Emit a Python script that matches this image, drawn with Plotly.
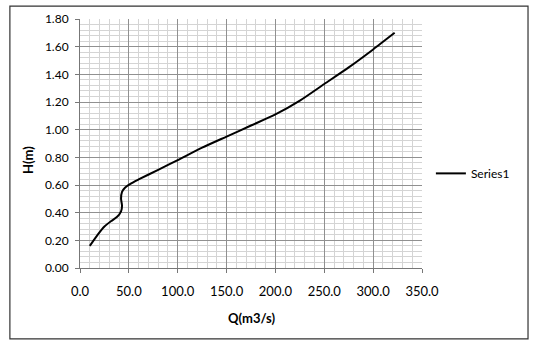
import plotly.graph_objects as go

Q = [10, 18, 25, 32, 38, 42, 43, 42, 43, 46, 52, 60, 80, 100, 125, 150, 175, 200, 225, 250, 275, 300, 322]
H = [0.16, 0.24, 0.30, 0.34, 0.37, 0.41, 0.45, 0.50, 0.55, 0.58, 0.61, 0.64, 0.71, 0.78, 0.87, 0.95, 1.03, 1.11, 1.21, 1.33, 1.45, 1.58, 1.70]

x_ticks = [0, 50, 100, 150, 200, 250, 300, 350]
y_ticks = [0, 0.2, 0.4, 0.6, 0.8, 1.0, 1.2, 1.4, 1.6, 1.8]

FONT = "Lato"

fig = go.Figure()
fig.add_trace(go.Scatter(x=Q, y=H, mode="lines", name="Series1",
                         line=dict(color="black", width=2, shape="spline", smoothing=0.6)))

fig.update_layout(
    width=534, height=344,
    margin=dict(l=80, r=112, t=19, b=76, autoexpand=False),
    paper_bgcolor="white", plot_bgcolor="white",
    font=dict(family=FONT, size=12, color="black"),
    showlegend=True,
    legend=dict(x=1.026, y=0.38, xanchor="left", yanchor="middle",
                font=dict(family=FONT, size=12, color="black"),
                bgcolor="rgba(0,0,0,0)"),
    xaxis=dict(range=[0, 350], tickvals=x_ticks, ticktext=[f"{v:.1f}" for v in x_ticks],
               showgrid=True, gridcolor="#909090", gridwidth=1,
               minor=dict(dtick=10, showgrid=True, gridcolor="#d4d4d4", gridwidth=0.7),
               showline=True, linecolor="#777", linewidth=1,
               ticks="outside", ticklen=4, tickcolor="#777", ticklabelstandoff=7,
               zeroline=False, tickfont=dict(size=13)),
    yaxis=dict(range=[0, 1.8], tickvals=y_ticks, ticktext=[f"{v:.2f}" for v in y_ticks],
               showgrid=True, gridcolor="#909090", gridwidth=1,
               minor=dict(dtick=0.04, showgrid=True, gridcolor="#d4d4d4", gridwidth=0.7),
               showline=True, linecolor="#777", linewidth=1,
               ticks="outside", ticklen=4, tickcolor="#777", ticklabelstandoff=4,
               zeroline=False, tickfont=dict(size=12)),
)

fig.add_annotation(text="<b>Q(m3/s)</b>", xref="paper", yref="paper", x=0.5, y=-0.2,
                   showarrow=False, font=dict(family=FONT, size=13, color="black"),
                   xanchor="center", yanchor="middle")
fig.add_annotation(text="<b>H(m)</b>", xref="paper", yref="paper", x=-0.152, y=0.434,
                   showarrow=False, textangle=-90, font=dict(family=FONT, size=13, color="black"),
                   xanchor="center", yanchor="middle")

fig.add_shape(type="rect", xref="paper", yref="paper", x0=-0.205, x1=1.31, y0=-0.285, y1=1.052,
              line=dict(color="#333", width=1.2), fillcolor="rgba(0,0,0,0)")

fig.write_html("out.html")
